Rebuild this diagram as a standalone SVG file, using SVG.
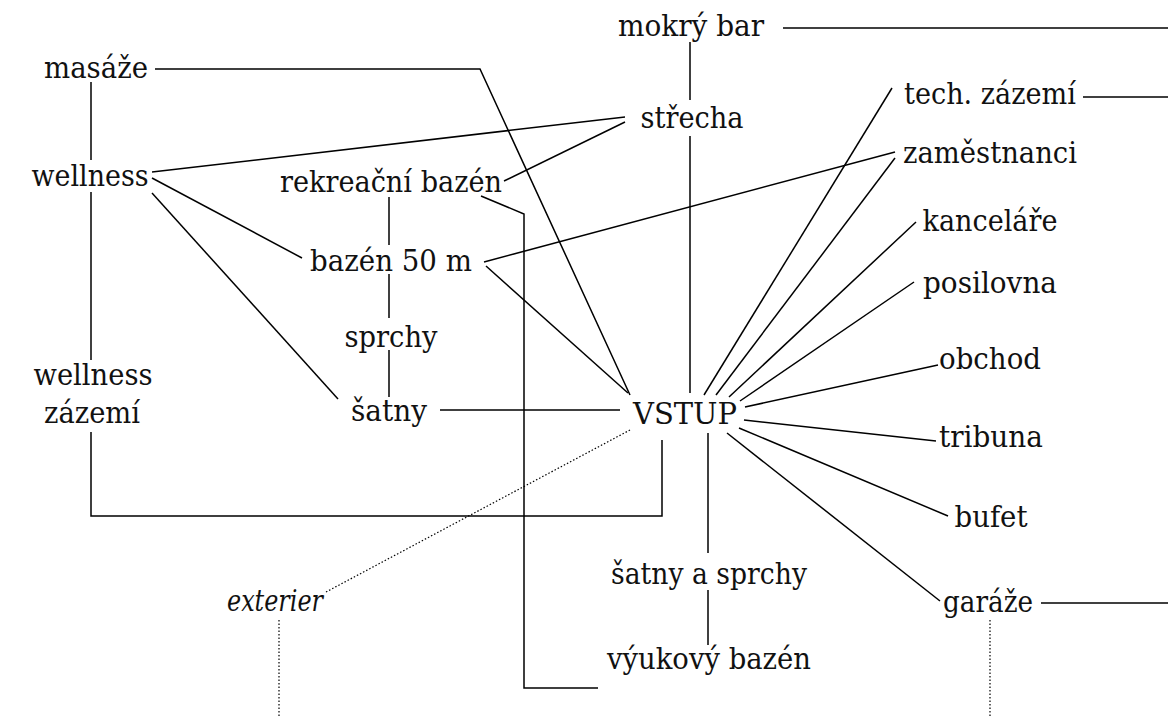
<svg xmlns="http://www.w3.org/2000/svg" width="1168" height="717" viewBox="0 0 1168 717">
<style>
text{font-family:"DejaVu Serif","Liberation Serif",serif;font-size:30px;fill:#111;text-anchor:middle}
.it{font-style:italic}
.c line,.c polyline{stroke:#000;stroke-width:1.5;fill:none}
.c .dot{stroke-width:1.2;stroke-dasharray:1.5 2}
</style>
<rect width="1168" height="717" fill="#fff"/>
<g class="c" id="connectors">
<line x1="783" y1="28" x2="1168" y2="28"/>
<line x1="690" y1="42" x2="690" y2="100"/>
<line x1="1083" y1="97" x2="1168" y2="97"/>
<line x1="1041" y1="603" x2="1168" y2="603"/>
<polyline points="155,69 480,69 630,395"/>
<line x1="91" y1="82" x2="91" y2="160"/>
<line x1="91" y1="192" x2="91" y2="360"/>
<polyline points="91,432 91,516 662,516 662,440"/>
<line x1="152" y1="172" x2="625" y2="117"/>
<line x1="504" y1="181" x2="625" y2="122"/>
<line x1="152" y1="178" x2="302" y2="258"/>
<line x1="152" y1="193" x2="338" y2="399"/>
<line x1="389" y1="197" x2="389" y2="245"/>
<line x1="389" y1="274" x2="389" y2="318"/>
<line x1="389" y1="350" x2="389" y2="397"/>
<line x1="440" y1="410" x2="620" y2="410"/>
<polyline points="481,196 524,214 524,688 598,688"/>
<line x1="484" y1="262" x2="895" y2="152"/>
<line x1="486" y1="266" x2="628" y2="393"/>
<line x1="690" y1="136" x2="690" y2="393"/>
<line x1="892" y1="88" x2="704" y2="395"/>
<line x1="895" y1="158" x2="716" y2="395"/>
<line x1="916" y1="222" x2="729" y2="397"/>
<line x1="914" y1="282" x2="740" y2="401"/>
<line x1="938" y1="365" x2="745" y2="407"/>
<line x1="744" y1="420" x2="936" y2="441"/>
<line x1="739" y1="428" x2="948" y2="516"/>
<line x1="727" y1="433" x2="940" y2="601"/>
<line x1="708" y1="433" x2="708" y2="553"/>
<line x1="708" y1="590" x2="708" y2="645"/>
<line class="dot" x1="630" y1="430" x2="326" y2="592"/>
<line class="dot" x1="279" y1="620" x2="279" y2="717"/>
<line class="dot" x1="990" y1="620" x2="990" y2="717"/>
</g>
<g id="n-mokry-bar"><text x="691" y="36" textLength="146" lengthAdjust="spacingAndGlyphs">mokrý bar</text></g>
<g id="n-masaze"><text x="96" y="78" textLength="104" lengthAdjust="spacingAndGlyphs">masáže</text></g>
<g id="n-strecha"><text x="692" y="128" textLength="103" lengthAdjust="spacingAndGlyphs">střecha</text></g>
<g id="n-tech-zazemi"><text x="990" y="104" textLength="172" lengthAdjust="spacingAndGlyphs">tech. zázemí</text></g>
<g id="n-zamestnanci"><text x="990" y="163" textLength="174" lengthAdjust="spacingAndGlyphs">zaměstnanci</text></g>
<g id="n-wellness"><text x="90" y="186" textLength="117" lengthAdjust="spacingAndGlyphs">wellness</text></g>
<g id="n-rekreacni-bazen"><text x="391" y="192" textLength="222" lengthAdjust="spacingAndGlyphs">rekreační bazén</text></g>
<g id="n-kancelare"><text x="990" y="231" textLength="135" lengthAdjust="spacingAndGlyphs">kanceláře</text></g>
<g id="n-bazen-50"><text x="391" y="271" textLength="162" lengthAdjust="spacingAndGlyphs">bazén 50 m</text></g>
<g id="n-posilovna"><text x="990" y="293" textLength="134" lengthAdjust="spacingAndGlyphs">posilovna</text></g>
<g id="n-sprchy"><text x="391" y="347" textLength="93" lengthAdjust="spacingAndGlyphs">sprchy</text></g>
<g id="n-wellness-zazemi"><text x="93" y="385" textLength="119" lengthAdjust="spacingAndGlyphs">wellness</text><text x="92" y="423" textLength="96" lengthAdjust="spacingAndGlyphs">zázemí</text></g>
<g id="n-obchod"><text x="990" y="369" textLength="102" lengthAdjust="spacingAndGlyphs">obchod</text></g>
<g id="n-satny"><text x="389" y="421" textLength="76" lengthAdjust="spacingAndGlyphs">šatny</text></g>
<g id="n-vstup"><text x="685" y="424" textLength="104" lengthAdjust="spacingAndGlyphs">VSTUP</text></g>
<g id="n-tribuna"><text x="991" y="447" textLength="104" lengthAdjust="spacingAndGlyphs">tribuna</text></g>
<g id="n-bufet"><text x="991" y="527" textLength="73" lengthAdjust="spacingAndGlyphs">bufet</text></g>
<g id="n-satny-sprchy"><text x="709" y="584" textLength="196" lengthAdjust="spacingAndGlyphs">šatny a sprchy</text></g>
<g id="n-exterier"><text class="it" x="275" y="611" textLength="96" lengthAdjust="spacingAndGlyphs">exterier</text></g>
<g id="n-garaze"><text x="988" y="612" textLength="90" lengthAdjust="spacingAndGlyphs">garáže</text></g>
<g id="n-vyukovy-bazen"><text x="709" y="669" textLength="204" lengthAdjust="spacingAndGlyphs">výukový bazén</text></g>
</svg>
